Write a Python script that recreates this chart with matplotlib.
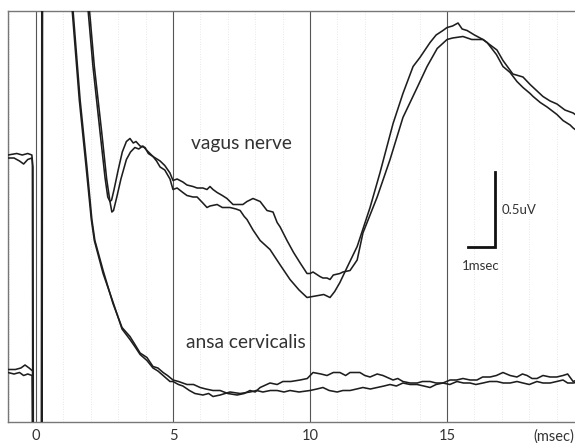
import numpy as np
import matplotlib.pyplot as plt

plt.rcParams['font.family'] = ['Lato', 'DejaVu Sans']

# evoked potentials, time in msec, amplitude in uV
# (stimulus artifact runs off the panel: -1 below, 5 above)
vagus_t1 = [-1.02, -0.8, -0.6, -0.45, -0.3, -0.15, -0.11, -0.09, 0.20, 0.22, 1.0, 1.75,
            1.90, 2.08, 2.34, 2.52, 2.62, 2.70, 2.76, 2.85, 3.0, 3.15, 3.30, 3.43, 3.55, 3.65,
            3.80, 3.98, 4.10, 4.27, 4.40, 4.53, 4.70, 4.89, 5.0, 5.15, 5.36, 5.51, 5.73, 5.88,
            6.09, 6.24, 6.35, 6.61, 6.80, 7.08, 7.30, 7.45, 7.60, 7.70, 7.92, 8.18, 8.54, 8.90,
            9.27, 9.60, 9.89, 10.2, 10.5, 10.73, 10.9, 11.09, 11.35, 11.72, 12.19, 12.55, 13.03,
            13.39, 13.76, 14.01, 14.38, 14.6, 14.85, 15.0, 15.2, 15.40, 15.55, 15.73, 16.0,
            16.31, 16.46, 16.8, 17.04, 17.30, 17.55, 17.77, 18.03, 18.14, 18.40, 18.65, 19.01,
            19.23, 19.49, 19.60, 19.9]
vagus_v1 = [1.76, 1.76, 1.74, 1.72, 1.75, 1.76, 1.70, -1, -1, 5, 5, 3.0,
            2.75, 2.37, 1.93, 1.63, 1.50, 1.47, 1.48, 1.55, 1.68, 1.80, 1.87, 1.89, 1.86, 1.87,
            1.84, 1.83, 1.79, 1.77, 1.74, 1.70, 1.68, 1.62, 1.55, 1.56, 1.53, 1.51, 1.50, 1.50,
            1.46, 1.43, 1.44, 1.45, 1.43, 1.43, 1.42, 1.41, 1.37, 1.35, 1.28, 1.21, 1.15, 1.05,
            0.95, 0.88, 0.83, 0.84, 0.85, 0.83, 0.87, 0.93, 1.03, 1.17, 1.43, 1.66, 1.99,
            2.19, 2.37, 2.43, 2.53, 2.58, 2.61, 2.63, 2.64, 2.66, 2.62, 2.61, 2.58,
            2.55, 2.53, 2.45, 2.37, 2.33, 2.27, 2.23, 2.19, 2.17, 2.13, 2.10, 2.05,
            2.01, 1.98, 1.96, 1.92]

vagus_t2 = [-1.02, -0.7, -0.5, -0.3, -0.15, -0.13, -0.11, 0.20, 0.23, 1.0, 1.8,
            1.95, 2.13, 2.40, 2.58, 2.70, 2.77, 2.83, 2.95, 3.1, 3.3, 3.45, 3.61, 3.75, 3.90,
            4.05, 4.27, 4.53, 4.70, 4.89, 5.0, 5.15, 5.36, 5.51, 5.73, 5.88, 6.09, 6.24, 6.35,
            6.46, 6.61, 6.80, 6.97, 7.19, 7.34, 7.55, 7.70, 7.92, 8.05, 8.18, 8.43, 8.65, 8.80,
            8.91, 9.16, 9.40, 9.64, 9.89, 10.0, 10.11, 10.36, 10.47, 10.62, 10.73, 10.85, 11.09,
            11.20, 11.46, 11.72, 11.93, 12.45, 12.92, 13.39, 13.91, 14.27, 14.64, 15.0, 15.20,
            15.58, 15.9, 16.31, 16.6, 16.82, 17.04, 17.40, 17.77, 18.03, 18.50, 18.76, 19.01,
            19.30, 19.60, 19.9]
vagus_v2 = [1.78, 1.79, 1.78, 1.79, 1.78, 1.74, -1, -1, 5, 5, 3.0,
            2.75, 2.37, 1.93, 1.62, 1.47, 1.40, 1.41, 1.50, 1.62, 1.75, 1.80, 1.83, 1.82, 1.84,
            1.81, 1.77, 1.74, 1.71, 1.66, 1.61, 1.62, 1.60, 1.58, 1.57, 1.56, 1.56, 1.55, 1.57,
            1.55, 1.53, 1.51, 1.49, 1.45, 1.45, 1.45, 1.47, 1.49, 1.48, 1.47, 1.41, 1.40, 1.33,
            1.30, 1.21, 1.13, 1.06, 0.99, 0.99, 1.00, 0.97, 0.96, 0.96, 0.95, 0.98, 0.99,
            1.00, 1.01, 1.08, 1.26, 1.50, 1.75, 2.03, 2.23, 2.37, 2.49, 2.55, 2.56,
            2.57, 2.55, 2.55, 2.51, 2.48, 2.41, 2.32, 2.30, 2.25, 2.17, 2.14, 2.12,
            2.08, 2.06, 2.02]

ansa_t1 = [-1.02, -0.75, -0.55, -0.40, -0.25, -0.12, -0.08, 0.21, 0.24, 0.9, 1.25,
           1.35, 1.61, 1.86, 2.04, 2.15, 2.45, 2.81, 3.14, 3.43, 3.60, 3.80, 4.05, 4.27, 4.45,
           4.64, 4.80, 5.0, 5.2, 5.51, 5.75, 5.99, 6.2, 6.46, 6.72, 7.0, 7.34, 7.6, 7.81,
           8.0, 8.18, 8.54, 8.8, 9.01, 9.3, 9.64, 9.9, 10.11, 10.4, 10.62, 10.85, 11.09, 11.3,
           11.46, 11.82, 12.0, 12.19, 12.45, 12.66, 13.03, 13.2, 13.39, 13.65, 13.91, 14.1,
           14.38, 14.6, 14.85, 15.11, 15.35, 15.58, 15.84, 16.09, 16.3, 16.57, 16.8, 17.04,
           17.3, 17.55, 17.75, 17.92, 18.1, 18.28, 18.5, 18.76, 19.0, 19.23, 19.4, 19.60, 19.9]
ansa_v1 = [0.35, 0.35, 0.36, 0.38, 0.36, 0.34, -1, -1, 5, 5, 3.3,
           2.75, 2.15, 1.70, 1.35, 1.21, 1.01, 0.79, 0.63, 0.57, 0.52, 0.46, 0.43, 0.37, 0.36,
           0.33, 0.31, 0.28, 0.27, 0.25, 0.25, 0.23, 0.22, 0.21, 0.21, 0.19, 0.18, 0.19, 0.21,
           0.20, 0.23, 0.26, 0.25, 0.27, 0.27, 0.28, 0.29, 0.33, 0.32, 0.31, 0.33, 0.33, 0.31,
           0.33, 0.33, 0.31, 0.30, 0.32, 0.31, 0.28, 0.29, 0.27, 0.26, 0.26, 0.27,
           0.27, 0.26, 0.26, 0.28, 0.28, 0.29, 0.28, 0.28, 0.30, 0.30, 0.31, 0.33,
           0.31, 0.30, 0.32, 0.31, 0.29, 0.29, 0.31, 0.30, 0.30, 0.31, 0.32, 0.27, 0.29]

ansa_t2 = [-1.02, -0.8, -0.6, -0.45, -0.3, -0.14, -0.10, 0.22, 0.25, 0.9, 1.2,
           1.32, 1.58, 1.83, 2.02, 2.13, 2.45, 2.81, 3.14, 3.43, 3.62, 3.80, 4.05, 4.27, 4.45,
           4.64, 4.89, 5.0, 5.2, 5.36, 5.6, 5.8, 6.09, 6.3, 6.46, 6.72, 6.9, 7.08, 7.45, 7.81,
           8.05, 8.28, 8.55, 8.80, 9.05, 9.27, 9.6, 10.0, 10.25, 10.47, 10.7, 10.99, 11.2,
           11.46, 11.7, 11.93, 12.2, 12.45, 12.7, 12.92, 13.15, 13.39, 13.65, 13.91, 14.15,
           14.38, 14.6, 14.85, 15.1, 15.36, 15.6, 15.84, 16.05, 16.31, 16.55, 16.82, 17.05,
           17.30, 17.55, 17.77, 18.0, 18.28, 18.5, 18.76, 19.0, 19.23, 19.4, 19.60, 19.9]
ansa_v2 = [0.33, 0.32, 0.33, 0.31, 0.32, 0.31, -1, -1, 5, 5, 3.3,
           2.75, 2.15, 1.70, 1.35, 1.21, 0.99, 0.80, 0.62, 0.55, 0.50, 0.45, 0.41, 0.36, 0.34,
           0.31, 0.27, 0.27, 0.25, 0.24, 0.21, 0.19, 0.18, 0.19, 0.17, 0.18, 0.19, 0.20, 0.19,
           0.20, 0.21, 0.20, 0.21, 0.21, 0.20, 0.21, 0.20, 0.21, 0.22, 0.23, 0.21, 0.20, 0.21,
           0.21, 0.22, 0.23, 0.22, 0.23, 0.24, 0.25, 0.24, 0.26, 0.25, 0.25, 0.24,
           0.23, 0.25, 0.26, 0.25, 0.27, 0.26, 0.26, 0.25, 0.26, 0.27, 0.27, 0.26,
           0.26, 0.27, 0.26, 0.25, 0.27, 0.26, 0.26, 0.27, 0.28, 0.26, 0.26, 0.27]

xticks = [0, 5, 10, 15]

fig = plt.figure(figsize=(5.75, 4.43), dpi=100)
ax = fig.add_axes([8 / 575, 21 / 443, 1.0, 411 / 443])

# faint 1 msec grid, darker every 5 msec
for t in range(-1, 20):
    ax.axvline(t, color='#e0e0e0', lw=0.6, ls=(0, (1, 2)), zorder=0)
for t in xticks:
    ax.axvline(t, color='#555555', lw=0.8, zorder=1)

for t, v in [(vagus_t1, vagus_v1), (vagus_t2, vagus_v2), (ansa_t1, ansa_v1), (ansa_t2, ansa_v2)]:
    ax.plot(t, v, color='#1e1e1e', lw=1.15, zorder=3)

ax.text(7.48, 1.86, 'vagus nerve', fontsize=13.8, color='#333333', ha='center', va='center')
ax.text(7.66, 0.53, 'ansa cervicalis', fontsize=13.8, color='#333333', ha='center', va='center')

# scale bar
ax.plot([15.77, 16.75, 16.75], [1.167, 1.167, 1.667], color='#111111', lw=2, zorder=4,
        solid_joinstyle='miter')
ax.text(16.98, 1.413, '0.5uV', fontsize=9.5, color='#333333', ha='left', va='center')
ax.text(15.55, 1.04, '1msec', fontsize=9.5, color='#333333', ha='left', va='center')

ax.set_xlim(-1.02, 19.96)
ax.set_ylim(0, 2.74)
ax.set_xticks(xticks + [18.9])
ax.set_xticklabels(['0', '5', '10', '15', '(msec)'])
ax.tick_params(axis='x', length=0, pad=5, labelsize=10.5, labelcolor='#333333')
ax.set_yticks([])
for side in ['left', 'top', 'bottom']:
    ax.spines[side].set_color('#777777')
    ax.spines[side].set_linewidth(1)
ax.spines['right'].set_visible(False)

fig.savefig('out.png', dpi=100)
